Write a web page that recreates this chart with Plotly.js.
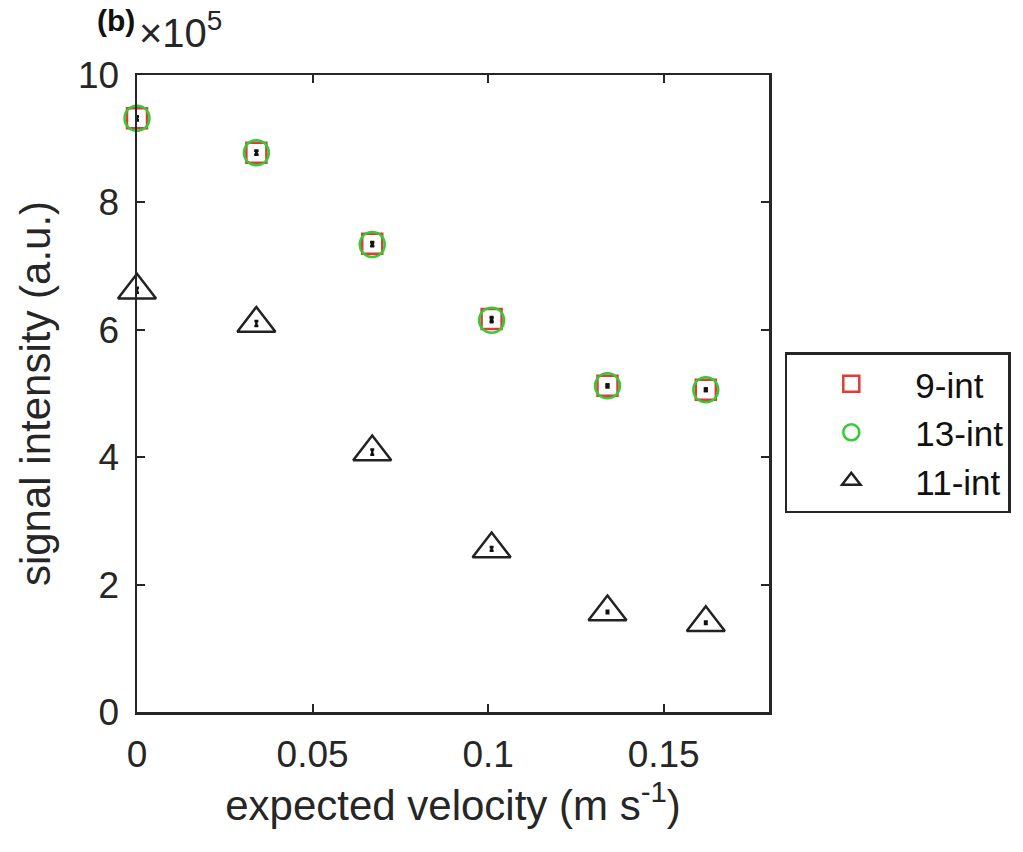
<!DOCTYPE html>
<html>
<head>
<meta charset="utf-8">
<script src="https://cdn.plot.ly/plotly-3.0.1.min.js"></script>
<style>html,body{margin:0;padding:0;background:#fff;}#chart{width:1023px;height:852px;}</style>
</head>
<body>
<div id="chart"></div>
<script>
// expected velocity (m s^-1)
const velocity = [0, 0.034, 0.067, 0.101, 0.134, 0.162];
// signal intensity, in units of 1e5 (a.u.)
const int9  = [9.32, 8.78, 7.35, 6.17, 5.12, 5.06];
const int13 = [9.32, 8.78, 7.34, 6.15, 5.12, 5.06];
const int11 = [6.62, 6.10, 4.08, 2.56, 1.57, 1.40];
const err9  = [0.03, 0.03, 0.03, 0.03, 0.02, 0.02];
const err13 = [0.03, 0.03, 0.03, 0.03, 0.02, 0.02];
const err11 = [0.04, 0.04, 0.04, 0.03, 0.02, 0.02];
const seriesNames = ['9-int', '13-int', '11-int'];
const xTickVals = [0, 0.05, 0.1, 0.15];
const xTickText = ['0', '0.05', '0.1', '0.15'];
const yTickVals = [0, 2, 4, 6, 8, 10];
const yTickText = ['0', '2', '4', '6', '8', '10'];

const FONT = 'Liberation Sans, Arial, sans-serif';
const AX = '#262626';

function trace(y, err, name, symbol, color, size) {
  return {
    x: velocity, y: y, name: name, type: 'scatter', mode: 'markers',
    marker: {symbol: symbol, size: size, color: color, line: {color: color, width: 2.5}},
    error_y: {type: 'data', array: err, visible: true, color: '#111', thickness: 2.5, width: 2},
    cliponaxis: false
  };
}

const data = [
  trace(int9, err9, seriesNames[0], 'square-open', '#e03a3a', 20),
  trace(int13, err13, seriesNames[1], 'circle-open', '#33cc33', 25),
  trace(int11, err11, seriesNames[2], 'triangle-up-open', '#222222', 33)
];

const axisCommon = {
  showgrid: false, zeroline: false, showline: true, linecolor: AX, linewidth: 2.5,
  mirror: 'ticks', ticks: 'inside', ticklen: 8, tickwidth: 2, tickcolor: AX,
  tickfont: {family: FONT, size: 37, color: AX}, automargin: false
};

const layout = {
  width: 1023, height: 852,
  paper_bgcolor: '#fff', plot_bgcolor: '#fff',
  margin: {l: 137, r: 251, t: 75, b: 140},
  font: {family: FONT, color: AX},
  xaxis: Object.assign({}, axisCommon, {
    range: [0, 0.18], tickvals: xTickVals, ticktext: xTickText,
    ticklabelstandoff: 8,
    title: {text: 'expected velocity (m s<sup>-1</sup>)', font: {family: FONT, size: 42, color: AX}, standoff: 6}
  }),
  yaxis: Object.assign({}, axisCommon, {
    range: [0, 10], tickvals: yTickVals, ticktext: yTickText,
    ticklabelstandoff: 8,
    title: {text: 'signal intensity (a.u.)', font: {family: FONT, size: 42, color: AX}, standoff: 14}
  }),
  showlegend: true,
  legend: {
    x: 1.025, y: 0.565, xanchor: 'left', yanchor: 'top',
    bgcolor: '#fff', bordercolor: AX, borderwidth: 2.5,
    font: {family: FONT, size: 35, color: '#111'},
    itemwidth: 118, tracegroupgap: 0
  },
  annotations: [
    {text: '<b>(b)</b>', xref: 'paper', yref: 'paper', x: -0.067, y: 1.0, xanchor: 'left', yanchor: 'bottom',
     yshift: 36, showarrow: false, font: {family: FONT, size: 30, color: '#111'}},
    {text: '\u00d710<sup>5</sup>', xref: 'paper', yref: 'paper', x: 0.0, y: 1.0, xanchor: 'left', yanchor: 'bottom',
     yshift: 18, showarrow: false, font: {family: FONT, size: 40, color: AX}}
  ]
};

Plotly.newPlot('chart', data, layout, {staticPlot: true, displayModeBar: false});
</script>
</body>
</html>
